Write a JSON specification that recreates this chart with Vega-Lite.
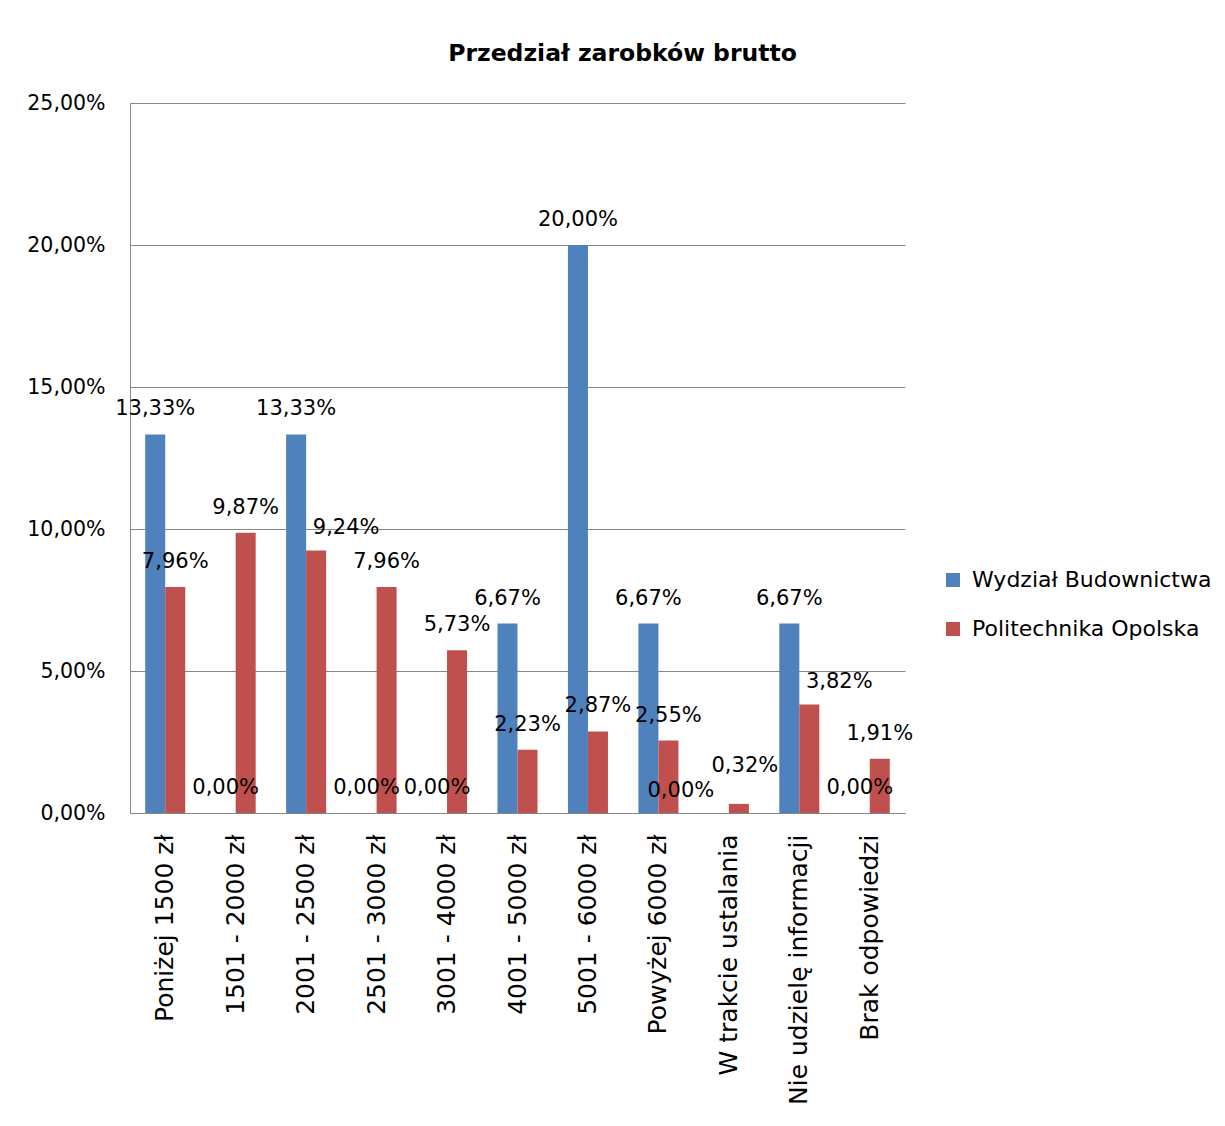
{
  "$schema": "https://vega.github.io/schema/vega-lite/v6.json",
  "width": 775,
  "height": 710,
  "autosize": {"type": "none"},
  "padding": {"left": 130, "top": 103, "right": 320, "bottom": 313},
  "config": {
    "locale": {"number": {"decimal": ",", "thousands": " ", "grouping": [3], "currency": ["", " zł"]}},
    "font": "DejaVu Sans",
    "view": {"stroke": null},
    "background": "white"
  },
  "title": {"text": "Przedział zarobków brutto", "fontSize": 23.5, "fontWeight": "bold", "dx": 105, "offset": 28, "color": "black", "font": "DejaVu Sans"},
  "data": {"values": [
    {"kat": "Poniżej 1500 zł", "seria": "Wydział Budownictwa", "v": 0.1333},
    {"kat": "Poniżej 1500 zł", "seria": "Politechnika Opolska", "v": 0.0796},
    {"kat": "1501 - 2000 zł", "seria": "Wydział Budownictwa", "v": 0.0},
    {"kat": "1501 - 2000 zł", "seria": "Politechnika Opolska", "v": 0.0987},
    {"kat": "2001 - 2500 zł", "seria": "Wydział Budownictwa", "v": 0.1333},
    {"kat": "2001 - 2500 zł", "seria": "Politechnika Opolska", "v": 0.0924},
    {"kat": "2501 - 3000 zł", "seria": "Wydział Budownictwa", "v": 0.0},
    {"kat": "2501 - 3000 zł", "seria": "Politechnika Opolska", "v": 0.0796},
    {"kat": "3001 - 4000 zł", "seria": "Wydział Budownictwa", "v": 0.0},
    {"kat": "3001 - 4000 zł", "seria": "Politechnika Opolska", "v": 0.0573},
    {"kat": "4001 - 5000 zł", "seria": "Wydział Budownictwa", "v": 0.0667},
    {"kat": "4001 - 5000 zł", "seria": "Politechnika Opolska", "v": 0.0223},
    {"kat": "5001 - 6000 zł", "seria": "Wydział Budownictwa", "v": 0.2},
    {"kat": "5001 - 6000 zł", "seria": "Politechnika Opolska", "v": 0.0287},
    {"kat": "Powyżej 6000 zł", "seria": "Wydział Budownictwa", "v": 0.0667},
    {"kat": "Powyżej 6000 zł", "seria": "Politechnika Opolska", "v": 0.0255},
    {"kat": "W trakcie ustalania", "seria": "Wydział Budownictwa", "v": 0.0},
    {"kat": "W trakcie ustalania", "seria": "Politechnika Opolska", "v": 0.0032},
    {"kat": "Nie udzielę informacji", "seria": "Wydział Budownictwa", "v": 0.0667},
    {"kat": "Nie udzielę informacji", "seria": "Politechnika Opolska", "v": 0.0382},
    {"kat": "Brak odpowiedzi", "seria": "Wydział Budownictwa", "v": 0.0},
    {"kat": "Brak odpowiedzi", "seria": "Politechnika Opolska", "v": 0.0191}
  ]},
  "encoding": {
    "x": {
      "field": "kat", "type": "nominal", "sort": null,
      "scale": {"paddingInner": 0.432, "paddingOuter": 0.216},
      "axis": {"title": null, "labelAngle": -90, "labelFontSize": 25, "labelPadding": 21, "ticks": false, "domainColor": "#868686", "labelColor": "black", "labelLimit": 400}
    },
    "xOffset": {"field": "seria", "type": "nominal", "sort": ["Wydział Budownictwa", "Politechnika Opolska"]},
    "y": {
      "field": "v", "type": "quantitative",
      "scale": {"domain": [0, 0.25]},
      "axis": {"title": null, "values": [0, 0.05, 0.1, 0.15, 0.2, 0.25], "format": ".2%", "grid": true, "gridColor": "#868686", "domainColor": "#868686", "ticks": false, "labelPadding": 25, "labelFontSize": 20.5, "labelColor": "black"}
    }
  },
  "layer": [
    {
      "mark": {"type": "bar"},
      "encoding": {
        "color": {
          "field": "seria", "type": "nominal",
          "scale": {"domain": ["Wydział Budownictwa", "Politechnika Opolska"], "range": ["#4F81BD", "#C0504D"]},
          "legend": {"title": null, "orient": "none", "legendX": 812, "legendY": 466, "symbolType": "square", "symbolSize": 196, "labelFontSize": 22, "labelLimit": 400, "rowPadding": 27, "labelOffset": 8, "symbolStrokeWidth": 0, "labelColor": "black"}
        }
      }
    },
    {
      "transform": [{"filter": "!((datum.kat == '2001 - 2500 zł' || datum.kat == 'Nie udzielę informacji' || datum.kat == 'W trakcie ustalania') && (datum.seria == 'Politechnika Opolska' || datum.kat == 'W trakcie ustalania'))"}],
      "mark": {"type": "text", "baseline": "alphabetic", "dy": -19, "fontSize": 21, "color": "black"},
      "encoding": {"text": {"field": "v", "type": "quantitative", "format": ".2%"}}
    },
    {
      "transform": [{"filter": "(datum.kat == '2001 - 2500 zł' || datum.kat == 'Nie udzielę informacji') && datum.seria == 'Politechnika Opolska'"}],
      "mark": {"type": "text", "baseline": "alphabetic", "dx": 30, "dy": -17, "fontSize": 21, "color": "black"},
      "encoding": {"text": {"field": "v", "type": "quantitative", "format": ".2%"}}
    },
    {
      "transform": [{"filter": "datum.kat == 'W trakcie ustalania' && datum.seria == 'Wydział Budownictwa'"}],
      "mark": {"type": "text", "baseline": "alphabetic", "dx": -38, "dy": -16, "fontSize": 21, "color": "black"},
      "encoding": {"text": {"field": "v", "type": "quantitative", "format": ".2%"}}
    },
    {
      "transform": [{"filter": "datum.kat == 'W trakcie ustalania' && datum.seria == 'Politechnika Opolska'"}],
      "mark": {"type": "text", "baseline": "alphabetic", "dx": 6, "dy": -32, "fontSize": 21, "color": "black"},
      "encoding": {"text": {"field": "v", "type": "quantitative", "format": ".2%"}}
    }
  ]
}
